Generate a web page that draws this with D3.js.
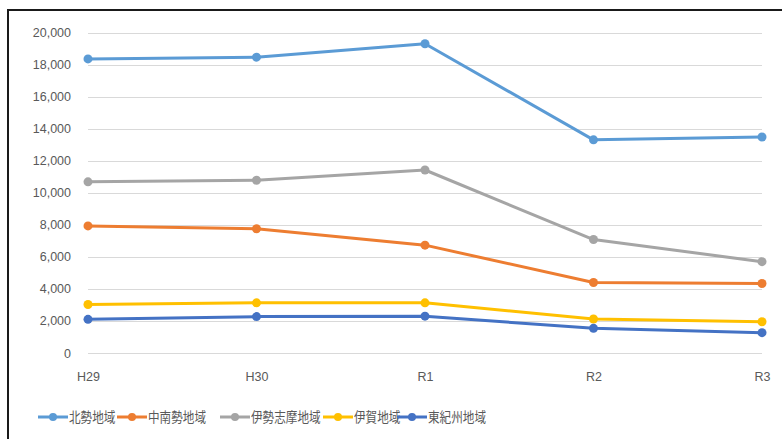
<!DOCTYPE html>
<html>
<head>
<meta charset="utf-8">
<script src="https://cdn.jsdelivr.net/npm/d3@7"></script>
<style>
  html, body { margin: 0; padding: 0; background: #fff; }
  svg { display: block; }
</style>
</head>
<body>
<svg id="chart" width="782" height="439"></svg>
<script>
// Fiscal years on the category axis
const years = ["H29", "H30", "R1", "R2", "R3"];

// Regional series
const hokusei   = [18350, 18460, 19300, 13300, 13480];
const chunansei = [7930, 7750, 6730, 4400, 4340];
const iseshima  = [10680, 10780, 11420, 7080, 5700];
const iga       = [3030, 3130, 3130, 2120, 1950];
const higashiKishu = [2100, 2270, 2300, 1540, 1270];

const seriesNames = ["北勢地域", "中南勢地域", "伊勢志摩地域", "伊賀地域", "東紀州地域"];
const seriesColors = ["#5B9BD5", "#ED7D31", "#A5A5A5", "#FFC000", "#4472C4"];
const seriesValues = [hokusei, chunansei, iseshima, iga, higashiKishu];

const yTicks = [0, 2000, 4000, 6000, 8000, 10000, 12000, 14000, 16000, 18000, 20000];

const svg = d3.select("#chart");

// outer frame (top and left edges fall inside the view)
svg.append("rect")
  .attr("x", 8).attr("y", 10)
  .attr("width", 800).attr("height", 460)
  .attr("fill", "none")
  .attr("stroke", "#1a1a1a")
  .attr("stroke-width", 2);

const x = d3.scalePoint().domain(years).range([88, 762]);
const y = d3.scaleLinear().domain([0, 20000]).range([353, 32.5]);

// horizontal gridlines
svg.append("g")
  .selectAll("line")
  .data(yTicks)
  .join("line")
  .attr("x1", 88).attr("x2", 762)
  .attr("y1", d => Math.round(y(d)) + 0.5)
  .attr("y2", d => Math.round(y(d)) + 0.5)
  .attr("stroke", "#D9D9D9")
  .attr("stroke-width", 1);

// value axis
const yAxis = d3.axisLeft(y)
  .tickValues(yTicks)
  .tickFormat(d3.format(","))
  .tickSize(0)
  .tickPadding(0);
const gy = svg.append("g").attr("transform", "translate(71,0)").call(yAxis);
gy.select(".domain").remove();
gy.selectAll("text")
  .attr("fill", "#595959")
  .attr("font-family", "'Liberation Sans', Arial, sans-serif")
  .attr("font-size", 12.5);

// category axis
const xAxis = d3.axisBottom(x).tickSize(0).tickPadding(0);
const gx = svg.append("g").attr("transform", "translate(0,372)").call(xAxis);
gx.select(".domain").remove();
gx.selectAll("text")
  .attr("fill", "#595959")
  .attr("font-family", "'Liberation Sans', Arial, sans-serif")
  .attr("font-size", 12.5);

// lines and markers
const line = d3.line()
  .x((d, i) => x(years[i]))
  .y(d => y(d));

seriesValues.forEach((vals, si) => {
  const g = svg.append("g");
  g.append("path")
    .datum(vals)
    .attr("d", line)
    .attr("fill", "none")
    .attr("stroke", seriesColors[si])
    .attr("stroke-width", 3)
    .attr("stroke-linejoin", "round");
  g.selectAll("circle")
    .data(vals)
    .join("circle")
    .attr("cx", (d, i) => x(years[i]))
    .attr("cy", d => y(d))
    .attr("r", 4.5)
    .attr("fill", seriesColors[si]);
});

// legend: condensed labels set with a fixed width per character
const legendX = [38, 117, 220, 323, 397];
const legendY = 417;
const lg = svg.append("g");
seriesNames.forEach((name, i) => {
  const gx0 = legendX[i];
  lg.append("line")
    .attr("x1", gx0).attr("x2", gx0 + 30)
    .attr("y1", legendY).attr("y2", legendY)
    .attr("stroke", seriesColors[i])
    .attr("stroke-width", 3);
  lg.append("circle")
    .attr("cx", gx0 + 15).attr("cy", legendY)
    .attr("r", 4)
    .attr("fill", seriesColors[i]);
  lg.append("text")
    .attr("x", gx0 + 31).attr("y", legendY)
    .attr("dy", "0.36em")
    .attr("fill", "#595959")
    .attr("font-family", "'Noto Sans CJK JP', sans-serif")
    .attr("font-size", 14)
    .attr("textLength", name.length * 11.6)
    .attr("lengthAdjust", "spacingAndGlyphs")
    .text(name);
});
</script>
</body>
</html>
